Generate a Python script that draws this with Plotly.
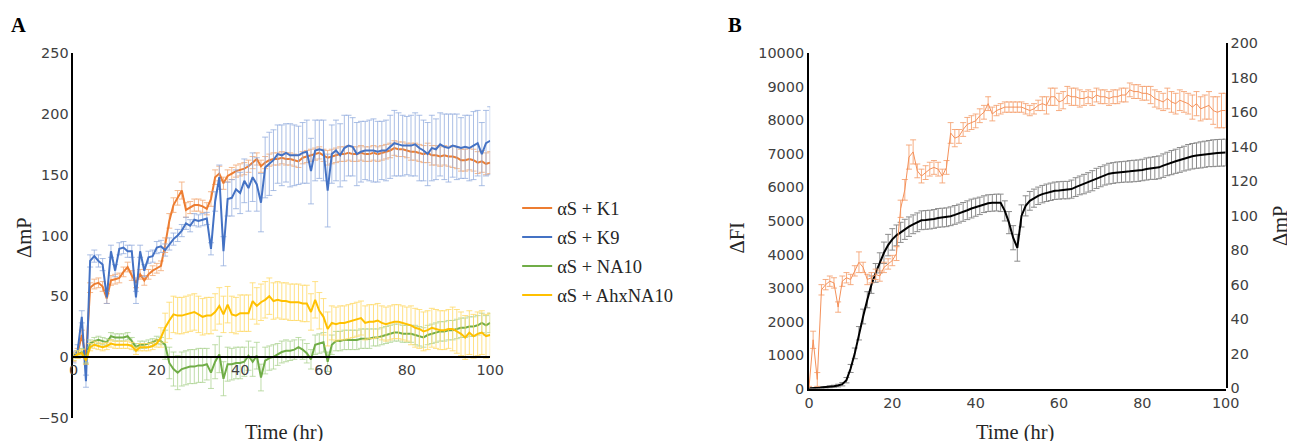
import plotly.graph_objects as go

W, H = 1295, 441

# ---------------- Panel A data ----------------
time_a = list(range(0, 101))

k1 = [0, 3, 18, -2, 57, 60, 61, 58, 48, 63, 64, 65, 70, 74, 67, 61, 68, 63, 68, 71,
      73, 75, 92, 112, 125, 131, 137, 121, 123, 125, 125, 124, 122, 130, 148, 151, 143, 149, 151, 153,
      154, 155, 157, 160, 163, 157, 160, 162, 163, 163, 164, 163, 163, 162, 161, 164, 165, 166, 167, 168,
      166, 164, 165, 166, 167, 167, 168, 167, 167, 168, 167, 167, 168, 167, 168, 169, 170, 172, 171, 171,
      170, 169, 169, 168, 167, 168, 166, 166, 165, 166, 165, 165, 164, 162, 162, 163, 162, 160, 161, 159, 160]
k1_err = [4] * 22 + [6, 6, 6, 6, 7, 6, 5, 5, 5, 5, 5, 6, 6, 6, 5, 5, 5, 5] + [5] * 21 + [6] * 20 + [7, 7, 7, 7, 8, 8, 8, 8, 8, 8, 9, 9, 9, 9, 9, 9, 9, 9, 9, 9]

k9 = [0, 5, 33, -20, 79, 83, 79, 76, 49, 87, 71, 89, 90, 87, 87, 49, 87, 71, 82, 83,
      90, 91, 88, 93, 97, 100, 104, 110, 108, 113, 112, 113, 114, 89, 128, 148, 87, 130, 131, 138,
      135, 145, 139, 148, 142, 127, 156, 159, 162, 167, 166, 168, 166, 166, 166, 168, 169, 153, 170, 171,
      170, 137, 167, 170, 166, 172, 174, 173, 167, 169, 170, 170, 170, 169, 170, 170, 173, 176, 175, 174,
      174, 174, 175, 172, 170, 167, 172, 171, 175, 173, 172, 174, 173, 172, 173, 172, 174, 176, 167, 176, 178]
k9_err = [5] * 34 + [8, 10, 12, 14, 15, 16, 17, 18, 19, 20, 22] + [24, 25, 26, 25, 24, 25, 24, 26, 25, 24, 25, 26, 27, 25, 24, 25, 30, 24, 25, 26,
          27, 25, 24, 26, 25, 24, 25, 26, 25, 24, 25, 26, 27, 26, 25, 24, 25, 26, 27, 25,
          26, 27, 25, 26, 27, 28, 26, 27, 25, 26, 27, 28, 27, 26, 27, 28, 27, 28, 27, 28]

na10 = [0, 2, 4, -2, 11, 13, 14, 13, 12, 17, 16, 16, 16, 17, 13, 8, 10, 10, 11, 12,
        14, 13, 10, -5, -10, -13, -10, -9, -8, -8, -7, -7, -6, -13, -4, 2, -18, -6, -6, -5,
        -5, -4, 1, -4, 1, -17, -3, -1, 0, 2, 4, 5, 5, 6, 8, 6, 3, -2, 10, 11,
        12, -4, 10, 13, 13, 14, 14, 14, 14, 15, 15, 15, 16, 16, 17, 18, 19, 20, 20, 19,
        19, 19, 18, 17, 16, 18, 19, 20, 21, 21, 22, 22, 23, 24, 24, 25, 25, 26, 28, 26, 28]
na10_err = [3] * 22 + [12, 13, 14, 14, 14, 14, 14, 14, 14, 14, 13, 13, 14, 15, 14, 14, 13, 13, 13, 12,
                      12, 12, 11, 11, 11, 10, 10, 9, 9, 9] + [8] * 20 + [7] * 10 + [8] * 19

ahx = [0, 2, 3, -3, 8, 10, 9, 8, 9, 11, 10, 10, 10, 10, 9, 5, 8, 8, 8, 9,
       11, 16, 24, 30, 35, 34, 34, 35, 36, 37, 35, 33, 34, 34, 37, 42, 35, 43, 35, 34,
       36, 36, 36, 46, 42, 45, 47, 50, 46, 47, 46, 46, 45, 45, 45, 44, 44, 37, 47, 38,
       33, 23, 28, 27, 28, 28, 29, 30, 31, 32, 28, 29, 29, 30, 28, 27, 28, 29, 29, 28,
       27, 26, 24, 23, 21, 22, 24, 23, 22, 22, 23, 23, 21, 19, 16, 20, 17, 19, 20, 17, 18]
ahx_err = [3] * 21 + [8, 12] + [15] * 38 + [14] * 20 + [16] * 10 + [18] * 10

# ---------------- Panel B data ----------------
time_b = list(range(0, 101))

dfi = [0, 10, 15, 20, 30, 50, 70, 90, 130, 250, 600, 1050, 1650, 2150, 2650, 3100, 3450, 3750, 4050, 4280,
       4450, 4570, 4660, 4750, 4830, 4900, 4960, 5020, 5030, 5040, 5060, 5090, 5100, 5110, 5140, 5180, 5220, 5270, 5320, 5370,
       5410, 5450, 5500, 5530, 5540, 5550, 5540, 5300, 4950, 4500, 4200, 5150, 5450, 5600, 5680, 5750, 5800, 5840, 5870, 5900,
       5910, 5920, 5920, 5950, 6010, 6060, 6100, 6150, 6200, 6270, 6320, 6370, 6410, 6430, 6450, 6460, 6470, 6480, 6490, 6500,
       6520, 6550, 6570, 6580, 6600, 6650, 6700, 6740, 6780, 6820, 6860, 6900, 6930, 6950, 6970, 6990, 7010, 7020, 7030, 7035, 7040]
dfi_err = [20, 20, 20, 20, 20, 30, 30, 40, 50, 80, 120, 160, 200, 220, 240, 260, 280, 300, 320, 320,
           320, 310, 300, 300, 290, 280, 280, 280, 280, 280, 280, 280, 280, 280, 280, 280, 280, 280, 280, 280,
           270, 260, 250, 250, 250, 250, 260, 300, 330, 360, 400, 330, 300, 280, 270, 260, 260, 260, 260, 260,
           260, 260, 260, 270, 280, 280, 290, 290, 300, 300, 300, 300, 310, 310, 310, 310, 310, 320, 320, 320,
           320, 330, 330, 340, 340, 350, 350, 360, 360, 370, 370, 380, 380, 380, 390, 390, 390, 400, 400, 400, 400]

dmp = [0, 28, 5, 57, 60, 62, 61, 47, 62, 64, 63, 68, 73, 70, 63, 64, 66, 65, 70, 72,
       74, 78, 104, 115, 134, 137, 126, 123, 125, 127, 128, 127, 123, 128, 148, 145, 146, 150, 153, 154,
       155, 158, 160, 165, 159, 161, 162, 163, 163, 163, 163, 163, 162, 161, 162, 164, 165, 164, 169, 169,
       166, 167, 170, 169, 169, 168, 168, 169, 168, 170, 169, 169, 168, 169, 169, 170, 170, 173, 172, 172,
       171, 171, 170, 168, 167, 166, 168, 166, 165, 167, 166, 165, 163, 165, 162, 163, 164, 161, 160, 161, 161]
dmp_err = [1, 5, 4, 3, 3, 3, 3, 3, 3, 3, 3, 3, 6, 3, 3, 3, 3, 3, 3, 3,
           3, 4, 5, 6, 7, 7, 4, 4, 4, 4, 4, 4, 4, 4, 6, 5, 4, 4, 4, 4,
           4, 4, 4, 4, 4, 3, 3, 3, 3, 3, 3, 3, 3, 3, 3, 3, 4, 5, 5, 5,
           5, 5, 5, 5, 5, 5, 4, 4, 4, 4, 4, 4, 4, 4, 4, 4, 4, 4, 4, 4,
           4, 4, 5, 5, 5, 5, 6, 6, 6, 6, 6, 6, 7, 7, 7, 7, 8, 8, 9, 10, 10]

a_ticks = [-50, 0, 50, 100, 150, 200, 250]
x_ticks = [0, 20, 40, 60, 80, 100]
fi_ticks = list(range(0, 10001, 1000))
mp_ticks = list(range(0, 201, 20))

series_a = [
    ("αS + K1", k1, k1_err, "#ED7D31", "rgba(244,177,131,0.9)"),
    ("αS + K9", k9, k9_err, "#4472C4", "rgba(143,170,220,0.75)"),
    ("αS + NA10", na10, na10_err, "#70AD47", "rgba(169,209,142,0.75)"),
    ("αS + AhxNA10", ahx, ahx_err, "#FFC000", "rgba(255,217,102,0.8)"),
]

# The page is photographed with an offset and slight scaling (measured);
# map target screen pixels to paper fractions accordingly.
SX, OX, SY, OY = 0.986, 12.5, 0.963, 15.7


def px_x(p):
    return ((p - OX) / SX) / W


def px_y(p):
    return 1 - ((p - OY) / SY) / H


def fs(s):
    return round(s / 0.975, 1)


fig = go.Figure()

for name, vals, err, col, ecol in series_a:
    fig.add_trace(go.Scatter(
        x=time_a, y=vals, mode="lines", name=name, legendgroup=name,
        line=dict(color=col, width=2),
        error_y=dict(type="data", array=err, visible=True, color=ecol, thickness=1, width=3),
        xaxis="x", yaxis="y"))

fig.add_trace(go.Scatter(
    x=time_b, y=dfi, mode="lines", name="ΔFI", showlegend=False,
    line=dict(color="black", width=2),
    error_y=dict(type="data", array=dfi_err, visible=True, color="#8c8c8c", thickness=1, width=3),
    xaxis="x2", yaxis="y2"))

fig.add_trace(go.Scatter(
    x=time_b, y=dmp, mode="lines", name="ΔmP", showlegend=False,
    line=dict(color="#F4915A", width=1),
    error_y=dict(type="data", array=dmp_err, visible=True, color="rgba(244,160,110,0.85)", thickness=1, width=3),
    xaxis="x3", yaxis="y3"))

ax_dom = [px_x(73), px_x(490)]
ay_dom = [px_y(417), px_y(53)]
bx_dom = [px_x(809), px_x(1226)]
by_dom = [px_y(388), px_y(53)]
by3_dom = [px_y(387.5), px_y(43)]

zero_pos = ay_dom[0] + (0 - (-50)) / 300 * (ay_dom[1] - ay_dom[0])

tickfont = dict(family="DejaVu Sans", size=fs(14), color="#404040")

fig.update_layout(
    width=W, height=H,
    margin=dict(l=0, r=0, t=0, b=0),
    paper_bgcolor="white", plot_bgcolor="rgba(0,0,0,0)",
    showlegend=True,
    legend=dict(x=px_x(517), y=px_y(189), xanchor="left", yanchor="top",
                font=dict(family="Liberation Serif", size=fs(18), color="#262626"),
                bgcolor="rgba(0,0,0,0)", tracegroupgap=2, itemwidth=30,
                traceorder="grouped"),
    xaxis=dict(domain=ax_dom, range=[0, 100], anchor="free", position=zero_pos,
               tickvals=x_ticks, showgrid=False, zeroline=False,
               showline=True, linecolor="black", linewidth=2, ticks="",
               tickfont=tickfont),
    yaxis=dict(domain=ay_dom, range=[-50, 250], anchor="x",
               tickvals=a_ticks, showgrid=False, zeroline=False,
               showline=True, linecolor="black", linewidth=2, ticks="",
               tickfont=tickfont),
    xaxis2=dict(domain=bx_dom, range=[0, 100], anchor="y2",
                tickvals=x_ticks, showgrid=False, zeroline=False,
                showline=True, linecolor="black", linewidth=2, ticks="",
                tickfont=tickfont),
    yaxis2=dict(domain=by_dom, range=[0, 10000], anchor="x2",
                tickvals=fi_ticks, ticktext=[str(v) for v in fi_ticks],
                showgrid=False, zeroline=False,
                showline=True, linecolor="black", linewidth=2, ticks="",
                tickfont=tickfont),
    xaxis3=dict(domain=bx_dom, range=[0, 100], anchor="y3", overlaying="x2",
                visible=False),
    yaxis3=dict(domain=by3_dom, range=[0, 200], anchor="x3", side="right",
                tickvals=mp_ticks, showgrid=False, zeroline=False,
                showline=True, linecolor="black", linewidth=2, ticks="",
                tickfont=tickfont),
)

title_font = dict(family="Liberation Serif", size=fs(20), color="#262626")
ann = [
    dict(text="<b>A</b>", x=px_x(18), y=px_y(25), font=dict(family="Liberation Serif", size=fs(20), color="black")),
    dict(text="<b>B</b>", x=px_x(735), y=px_y(25), font=dict(family="Liberation Serif", size=fs(20), color="black")),
    dict(text="Time (hr)", x=px_x(284), y=px_y(432), font=title_font),
    dict(text="Time (hr)", x=px_x(1015), y=px_y(432), font=title_font),
    dict(text="ΔmP", x=px_x(24), y=px_y(237), font=title_font, textangle=-90),
    dict(text="ΔFI", x=px_x(737), y=px_y(237), font=title_font, textangle=-90),
    dict(text="ΔmP", x=px_x(1281), y=px_y(225), font=title_font, textangle=-90),
]
for a in ann:
    fig.add_annotation(xref="paper", yref="paper", showarrow=False,
                       xanchor="center", yanchor="middle", **a)

fig.write_html("out.html", config={"displayModeBar": False})
